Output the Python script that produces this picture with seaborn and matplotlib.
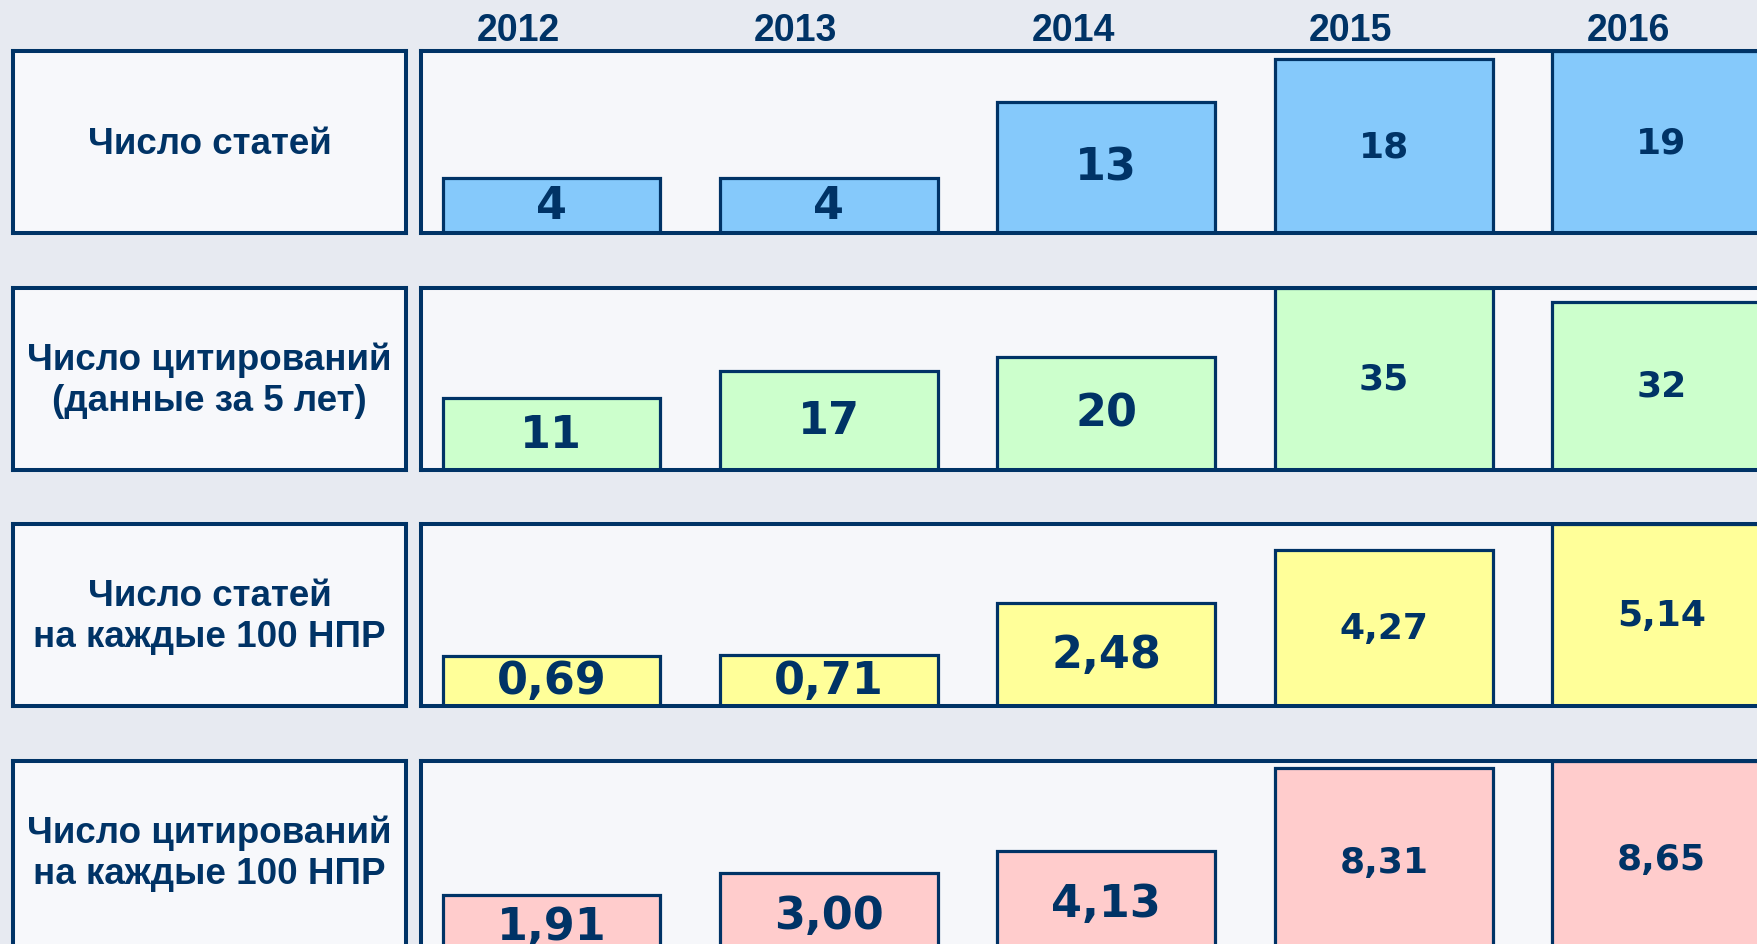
import numpy as np
import pandas as pd
import matplotlib
matplotlib.use("Agg")
import matplotlib.pyplot as plt
import matplotlib.transforms as mtransforms
import seaborn as sns

# data
years = ["2012", "2013", "2014", "2015", "2016"]
row_titles = ["Число статей",
              "Число цитирований\n(данные за 5 лет)",
              "Число статей\nна каждые 100 НПР",
              "Число цитирований\nна каждые 100 НПР"]
articles = [4, 4, 13, 18, 19]
citations = [11, 17, 20, 35, 32]
articles_per100 = [0.69, 0.71, 2.48, 4.27, 5.14]
citations_per100 = [1.91, 3.00, 4.13, 8.31, 8.65]

series = [articles, citations, articles_per100, citations_per100]
decimals = [0, 0, 2, 2]
bar_colors = ["#85C9FB", "#CCFFCC", "#FFFF99", "#FFCCCC"]
y_bottom = [-2.5, -4.7, -1.0, -1.2]   # axis floor per row (infographic scaling)

navy = "#003366"
bg = "#e7eaf1"
W, H = 1758, 945

sns.set_style("white")
plt.rcParams["font.family"] = ["Liberation Sans", "DejaVu Sans"]


def fbox(x0, y0, w, h):
    return [x0 / W, 1 - (y0 + h) / H, w / W, h / H]


def fmt(v, nd):
    if nd == 0:
        return str(int(v))
    return f"{v:.{nd}f}".replace(".", ",")


fig = plt.figure(figsize=(W / 100, H / 100), dpi=100, facecolor=bg)

row_tops = [52, 289, 525, 762]
row_heights = [182, 182, 182, 196]
label_sizes = [32, 32, 32, 26, 26]

top_ax = None
for i, vals in enumerate(series):
    top, h = row_tops[i], row_heights[i]

    # left title box
    lab = fig.add_axes(fbox(13, top, 393, h))
    lab.set_facecolor("#f7f8fb")
    lab.set_xticks([])
    lab.set_yticks([])
    for s in lab.spines.values():
        s.set_color(navy)
        s.set_linewidth(2.9)
    lab.text(0.5, 1 - 92 / h, row_titles[i], ha="center", va="center",
             fontsize=26.5, fontweight="bold", color=navy,
             linespacing=1.24, transform=lab.transAxes)

    # bar panel
    ax = fig.add_axes(fbox(421, top, 1354, h))
    ax.set_facecolor("#f6f7fa")
    base = y_bottom[i]
    df = pd.DataFrame({"year": years, "value": vals})
    df["height"] = df["value"] - base
    sns.barplot(data=df, x="year", y="height", bottom=base, color=bar_colors[i],
                saturation=1, width=0.785, edgecolor=navy, linewidth=2.3,
                errorbar=None, ax=ax)
    ax.set_xlim(-0.47, 4.41)
    ax.set_ylim(base, max(vals))
    ax.set_xticks([])
    ax.set_yticks([])
    ax.set_xlabel("")
    ax.set_ylabel("")
    for s in ax.spines.values():
        s.set_color(navy)
        s.set_linewidth(2.9)

    for j, v in enumerate(vals):
        ax.text(j, (base + v) / 2, fmt(v, decimals[i]), ha="center", va="center",
                fontsize=label_sizes[j], fontweight="bold", color=navy,
                family="DejaVu Sans")
    if i == 0:
        top_ax = ax

# year headers above the first panel
tr = mtransforms.blended_transform_factory(top_ax.transData, fig.transFigure)
for j, yr in enumerate(years):
    fig.text(j - 0.12, 1 - 31 / H, yr, transform=tr, ha="center", va="center",
             fontsize=27, fontweight="bold", color=navy)

fig.savefig("out.png", dpi=100, facecolor=bg)
